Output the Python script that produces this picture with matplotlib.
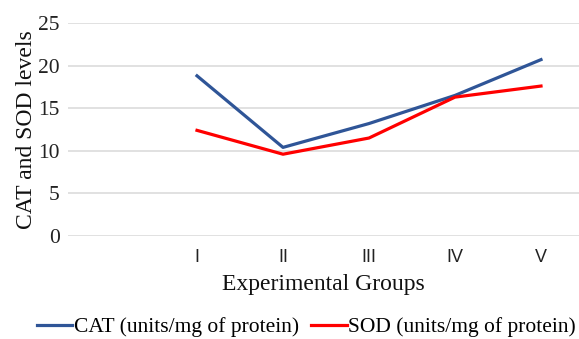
import matplotlib
matplotlib.use("Agg")
import matplotlib.pyplot as plt

categories = ["", "I", "II", "III", "IV", "V"]
cat_values = [None, 18.8, 10.4, 13.2, 16.5, 20.7]
sod_values = [None, 12.4, 9.6, 11.5, 16.3, 17.6]
yticks = [0, 5, 10, 15, 20, 25]

W, H = 579, 339
fig = plt.figure(figsize=(W / 100, H / 100), dpi=100)
ax = fig.add_axes([68 / W, 1 - 236 / H, 1 - 68 / W, 213 / H])

xs = list(range(len(categories)))
cx = [x for x, v in zip(xs, cat_values) if v is not None]
cv = [v for v in cat_values if v is not None]
sx = [x for x, v in zip(xs, sod_values) if v is not None]
sv = [v for v in sod_values if v is not None]

ax.plot(cx, cv, color="#2F5597", lw=2.3, label="CAT (units/mg of protein)", solid_joinstyle="round", zorder=3)
ax.plot(sx, sv, color="#FF0000", lw=2.3, label="SOD (units/mg of protein)", solid_joinstyle="round", zorder=3)

ax.set_xlim(-0.5, -0.5 + (W - 68) / 86)
ax.set_ylim(0, 25)
ax.set_yticks(yticks)
ax.set_yticklabels([str(t) for t in yticks], fontfamily="Liberation Serif", fontsize=15.5, color="#222222")
ax.set_xticks(xs)
ax.set_xticklabels(categories, fontfamily="Liberation Sans", fontsize=13, color="#222222")
ax.tick_params(axis="both", length=0)
ax.tick_params(axis="y", pad=6)
ax.tick_params(axis="x", pad=9)
ax.grid(axis="y", color="#D9D9D9", lw=1.1)
ax.set_axisbelow(True)
for s in ax.spines.values():
    s.set_visible(False)

ax.set_ylabel("CAT and SOD levels", fontfamily="Liberation Serif", fontsize=17, color="#111111", labelpad=1)
ax.set_xlabel("Experimental Groups", fontfamily="Liberation Serif", fontsize=17, color="#111111", labelpad=6)

fig.legend(loc="center", bbox_to_anchor=(306 / W, 1 - 327 / H), ncol=2, frameon=False,
           prop={"family": "Liberation Serif", "size": 15.5}, handlelength=1.67, handletextpad=0.05,
           columnspacing=0.56, borderpad=0, borderaxespad=0)

fig.savefig("out.png", dpi=100)
